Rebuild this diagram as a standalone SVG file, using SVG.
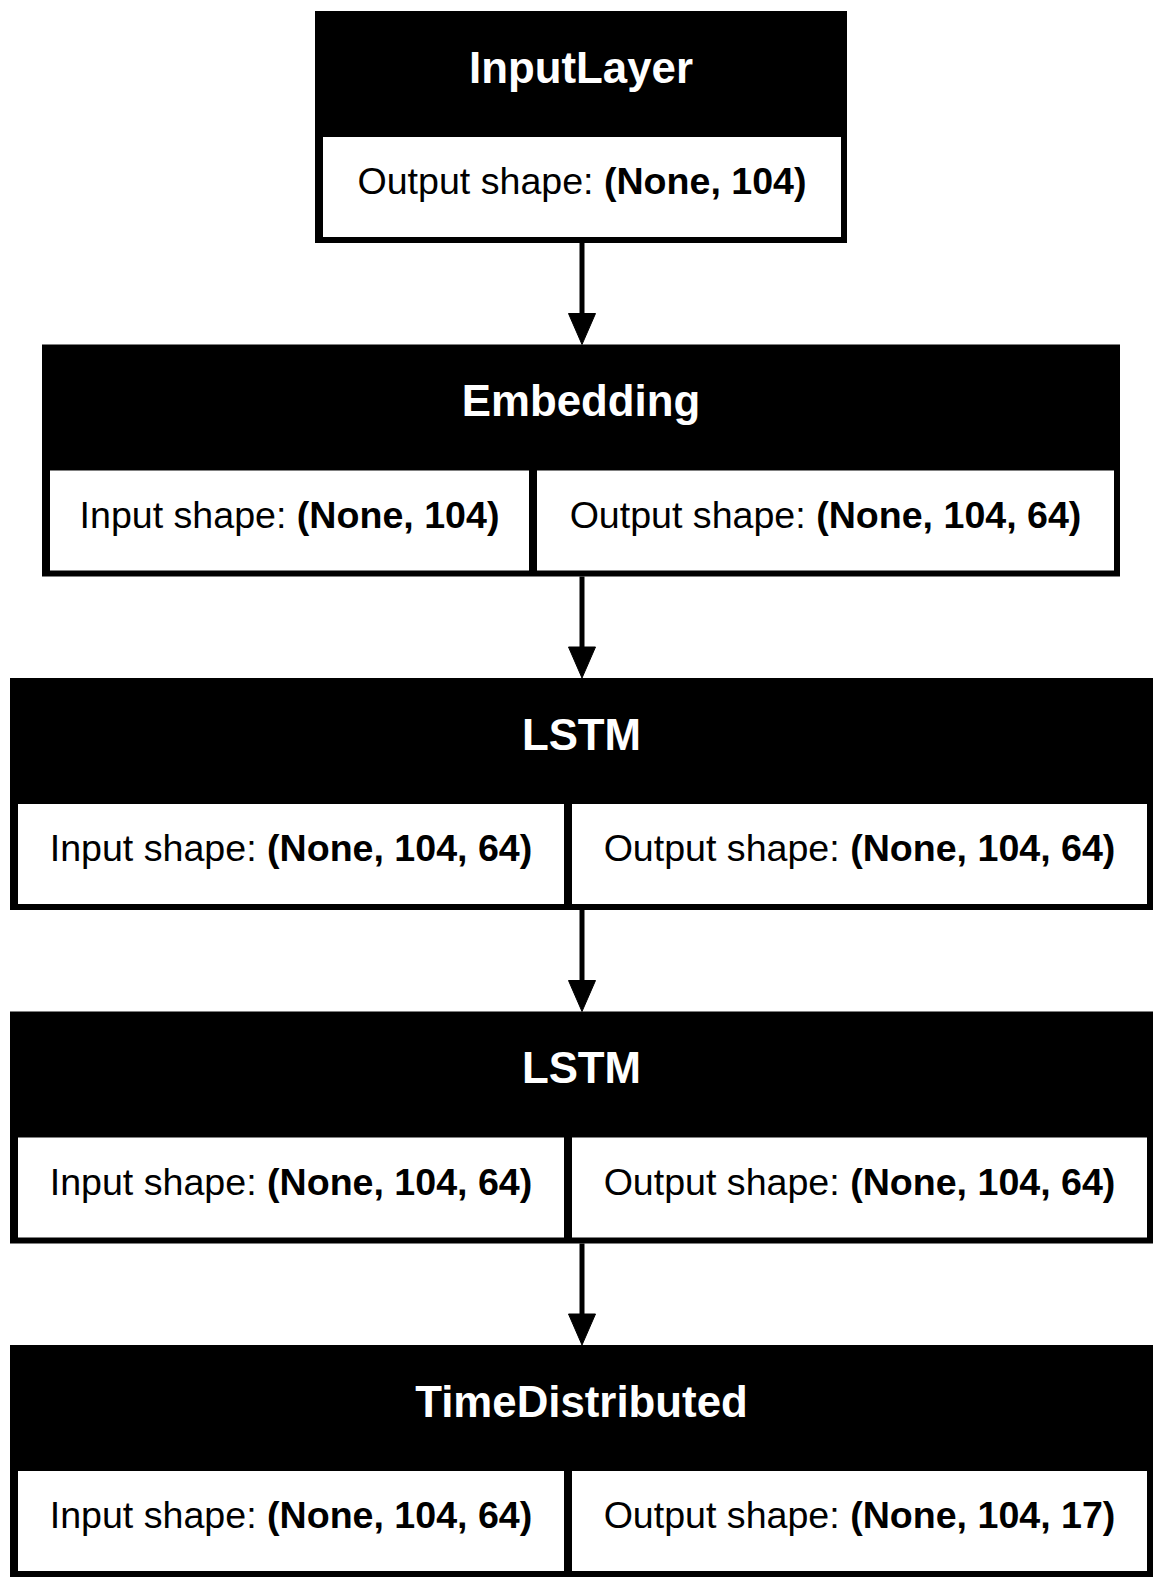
<svg xmlns="http://www.w3.org/2000/svg" width="1164" height="1589" viewBox="0 0 1164 1589">
<style>
.bg{fill:#ffffff}
.frame{fill:#000000}
.cell{fill:#ffffff}
.title{font-family:"Liberation Sans",Arial,sans-serif;font-weight:bold;font-size:43.8px;fill:#ffffff;text-anchor:middle}
.txt{font-family:"Liberation Sans",Arial,sans-serif;font-size:37.6px;fill:#000000;text-anchor:middle}
.b{font-weight:bold}
.edge{stroke:#000000;stroke-width:5;fill:none}
</style>
<defs>
<marker id="arrow" markerUnits="userSpaceOnUse" markerWidth="32" markerHeight="28" refX="0" refY="13.5" orient="auto" overflow="visible">
<path d="M0,0 L31,13.5 L0,27 z" fill="#000000" stroke="#000000" stroke-width="1"/>
</marker>
</defs>
<rect class="bg" x="0" y="0" width="1164" height="1589"/>
<g id="connectors">
<path class="edge" d="M582,243 L582,313.5" marker-end="url(#arrow)"/>
<path class="edge" d="M582,576.5 L582,647" marker-end="url(#arrow)"/>
<path class="edge" d="M582,910 L582,980.5" marker-end="url(#arrow)"/>
<path class="edge" d="M582,1243.5 L582,1314" marker-end="url(#arrow)"/>
</g>
<g id="node-inputlayer">
<rect class="frame" x="315" y="11" width="532" height="232"/>
<rect class="cell" x="323" y="137" width="518" height="100"/>
<text class="title" x="581" y="82.5">InputLayer</text>
<text class="txt" x="582" y="194">Output shape: <tspan class="b">(None, 104)</tspan></text>
</g>
<g id="node-embedding">
<rect class="frame" x="42" y="344.5" width="1078" height="232"/>
<rect class="cell" x="50" y="470.5" width="479" height="100"/>
<rect class="cell" x="537" y="470.5" width="577" height="100"/>
<text class="title" x="581" y="416">Embedding</text>
<text class="txt" x="289.5" y="527.5">Input shape: <tspan class="b">(None, 104)</tspan></text>
<text class="txt" x="825.5" y="527.5">Output shape: <tspan class="b">(None, 104, 64)</tspan></text>
</g>
<g id="node-lstm1">
<rect class="frame" x="10" y="678" width="1143" height="232"/>
<rect class="cell" x="18" y="804" width="546" height="100"/>
<rect class="cell" x="572" y="804" width="575" height="100"/>
<text class="title" x="581.5" y="749.5">LSTM</text>
<text class="txt" x="291" y="861">Input shape: <tspan class="b">(None, 104, 64)</tspan></text>
<text class="txt" x="859.5" y="861">Output shape: <tspan class="b">(None, 104, 64)</tspan></text>
</g>
<g id="node-lstm2">
<rect class="frame" x="10" y="1011.5" width="1143" height="232"/>
<rect class="cell" x="18" y="1137.5" width="546" height="100"/>
<rect class="cell" x="572" y="1137.5" width="575" height="100"/>
<text class="title" x="581.5" y="1083">LSTM</text>
<text class="txt" x="291" y="1194.5">Input shape: <tspan class="b">(None, 104, 64)</tspan></text>
<text class="txt" x="859.5" y="1194.5">Output shape: <tspan class="b">(None, 104, 64)</tspan></text>
</g>
<g id="node-timedistributed">
<rect class="frame" x="10" y="1345" width="1143" height="232"/>
<rect class="cell" x="18" y="1471" width="546" height="100"/>
<rect class="cell" x="572" y="1471" width="575" height="100"/>
<text class="title" x="581.5" y="1416.5">TimeDistributed</text>
<text class="txt" x="291" y="1528">Input shape: <tspan class="b">(None, 104, 64)</tspan></text>
<text class="txt" x="859.5" y="1528">Output shape: <tspan class="b">(None, 104, 17)</tspan></text>
</g>
</svg>
